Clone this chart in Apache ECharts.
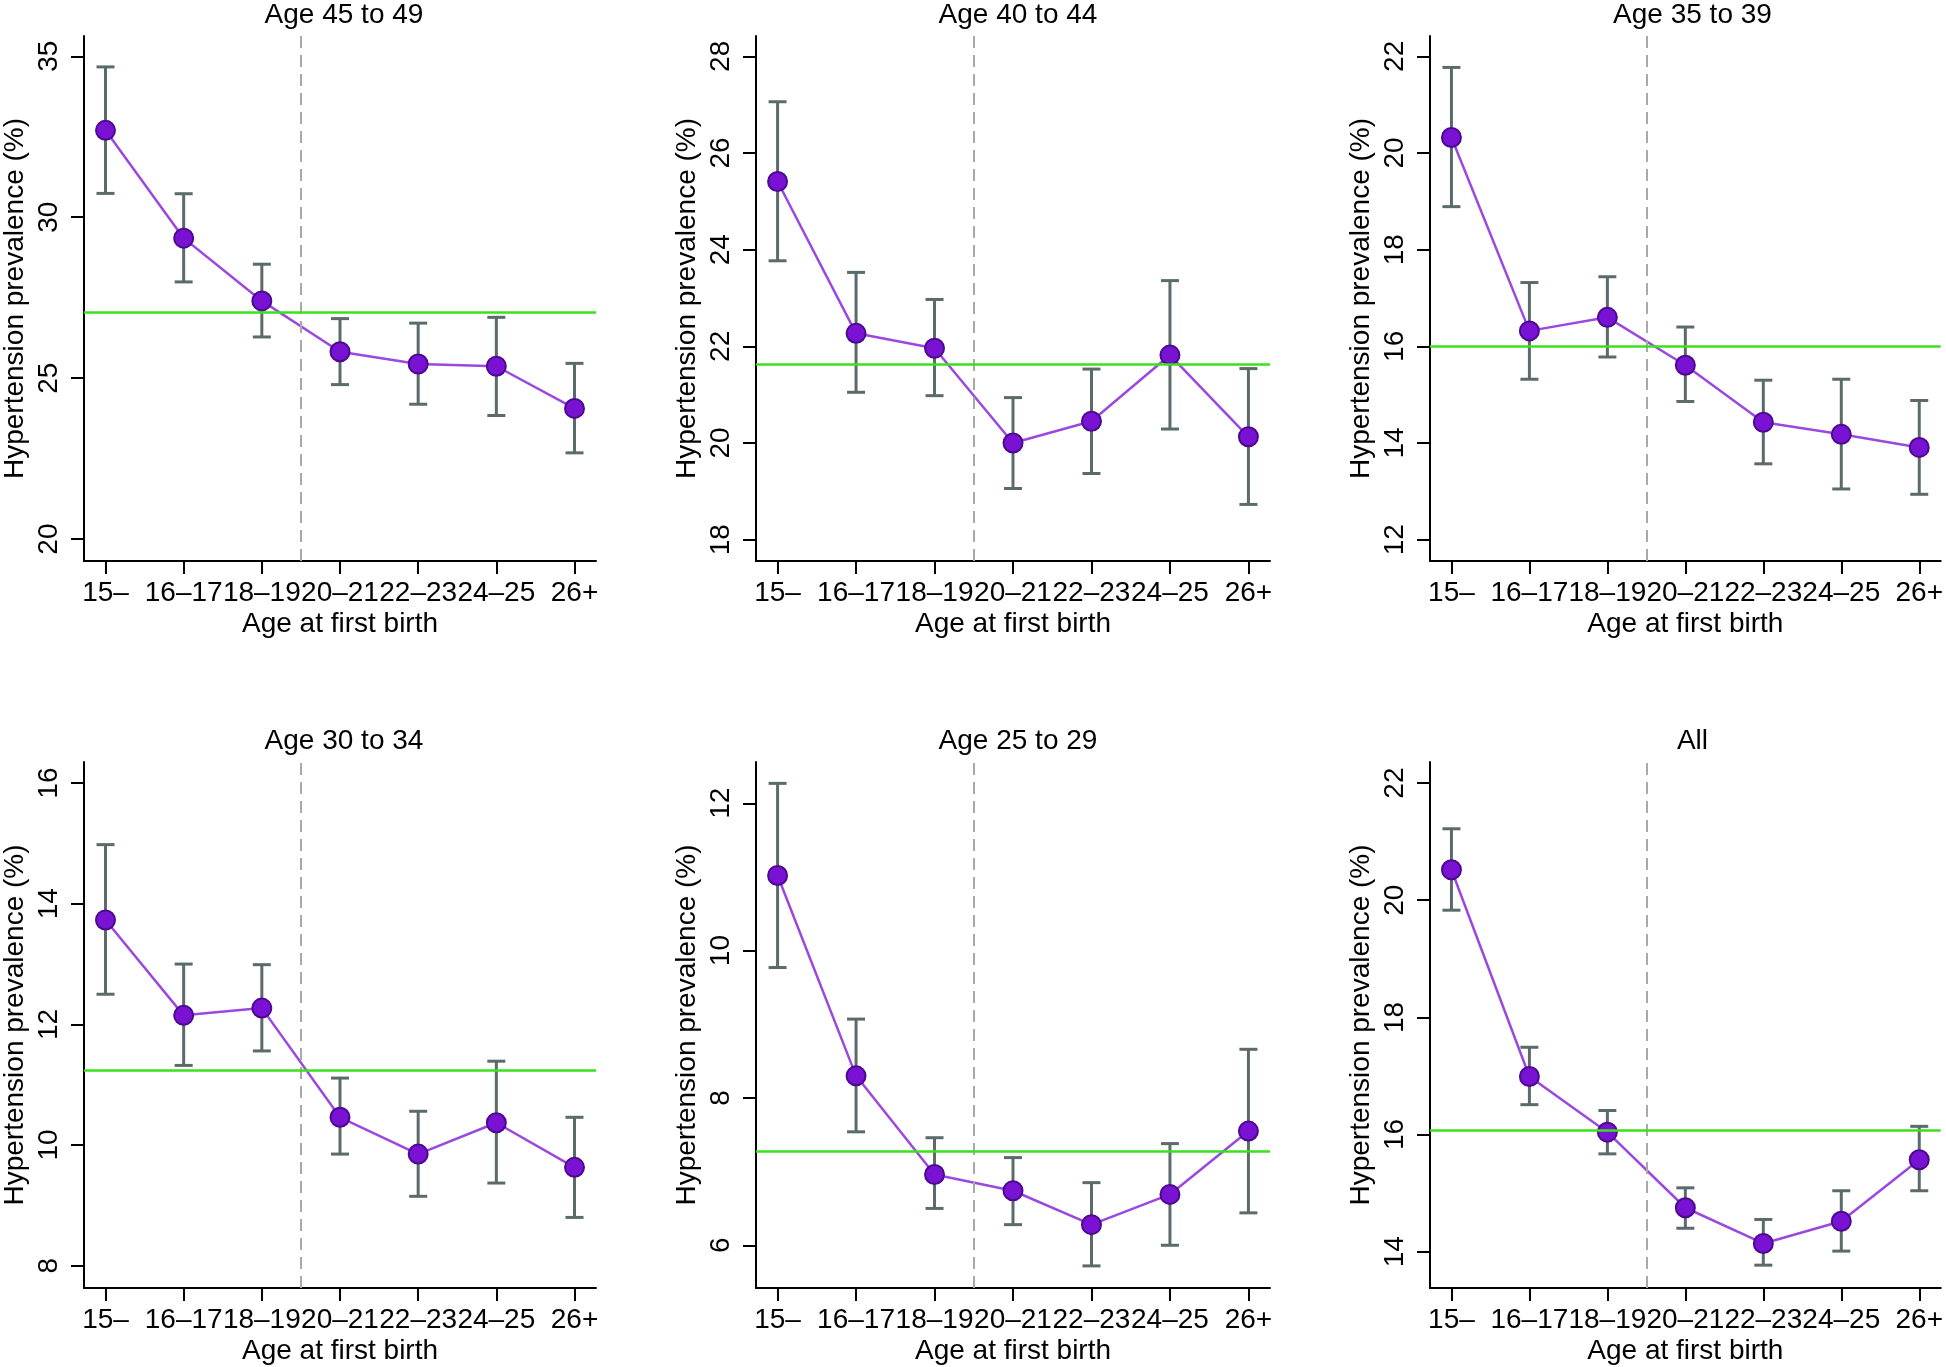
<!DOCTYPE html>
<html>
<head>
<meta charset="utf-8">
<script src="https://cdn.jsdelivr.net/npm/echarts@6/dist/echarts.min.js"></script>
<style>
  html, body { margin: 0; padding: 0; background: #fff; }
  #chart { width: 1946px; height: 1367px; }
</style>
</head>
<body>
<div id="chart"></div>
<script>
// categories: age at first birth
const CATS = ['15–', '16–17', '18–19', '20–21', '22–23', '24–25', '26+'];
const TITLES = ['Age 45 to 49', 'Age 40 to 44', 'Age 35 to 39', 'Age 30 to 34', 'Age 25 to 29', 'All'];

// prevalence (%) and 95% CI per panel
const PREV_45_49 = [32.70, 29.35, 27.40, 25.82, 25.44, 25.37, 24.06];
const LO_45_49   = [30.74, 27.99, 26.28, 24.80, 24.19, 23.84, 22.68];
const HI_45_49   = [34.67, 30.73, 28.54, 26.85, 26.71, 26.89, 25.46];

const PREV_40_44 = [25.41, 22.27, 21.96, 20.00, 20.45, 21.82, 20.13];
const LO_40_44   = [23.77, 21.05, 20.98, 19.06, 19.37, 20.29, 18.73];
const HI_40_44   = [27.06, 23.53, 22.97, 20.94, 21.53, 23.36, 21.54];

const PREV_35_39 = [20.32, 16.32, 16.60, 15.61, 14.43, 14.18, 13.91];
const LO_35_39   = [18.89, 15.32, 15.78, 14.86, 13.57, 13.05, 12.94];
const HI_35_39   = [21.77, 17.32, 17.44, 16.40, 15.30, 15.32, 14.88];

const PREV_30_34 = [13.73, 12.15, 12.27, 10.46, 9.85, 10.37, 9.63];
const LO_30_34   = [12.50, 11.32, 11.56, 9.85, 9.15, 9.37, 8.80];
const HI_30_34   = [14.98, 13.00, 12.99, 11.11, 10.56, 11.39, 10.46];

const PREV_25_29 = [11.02, 8.30, 6.96, 6.74, 6.28, 6.69, 7.55];
const LO_25_29   = [9.77, 7.54, 6.50, 6.28, 5.72, 6.00, 6.44];
const HI_25_29   = [12.27, 9.07, 7.46, 7.19, 6.85, 7.38, 8.66];

const PREV_ALL = [20.52, 16.99, 16.04, 14.75, 14.14, 14.52, 15.57];
const LO_ALL   = [19.83, 16.51, 15.67, 14.40, 13.77, 14.01, 15.04];
const HI_ALL   = [21.22, 17.49, 16.41, 15.09, 14.55, 15.04, 16.14];

// overall mean (green line)
const AVG = [27.04, 21.63, 16.00, 11.24, 7.27, 16.07];

// y tick labels per panel
const YTICKS = [
  [20, 25, 30, 35],
  [18, 20, 22, 24, 26, 28],
  [12, 14, 16, 18, 20, 22],
  [8, 10, 12, 14, 16],
  [6, 8, 10, 12],
  [14, 16, 18, 20, 22]
];

const PANELS = [
  { prev: PREV_45_49, lo: LO_45_49, hi: HI_45_49 },
  { prev: PREV_40_44, lo: LO_40_44, hi: HI_40_44 },
  { prev: PREV_35_39, lo: LO_35_39, hi: HI_35_39 },
  { prev: PREV_30_34, lo: LO_30_34, hi: HI_30_34 },
  { prev: PREV_25_29, lo: LO_25_29, hi: HI_25_29 },
  { prev: PREV_ALL, lo: LO_ALL, hi: HI_ALL }
];

// layout (pixels) and axis ranges
const GRIDS = [
  { left: 82, top: 36, width: 514, height: 525 },
  { left: 756, top: 36, width: 514, height: 525 },
  { left: 1430, top: 36, width: 515, height: 525 },
  { left: 82, top: 762, width: 514, height: 526 },
  { left: 756, top: 762, width: 514, height: 526 },
  { left: 1430, top: 762, width: 515, height: 526 }
];
const YRANGE = [
  [19.32, 35.63], [17.56, 28.42], [11.56, 22.42],
  [7.63, 16.35], [5.42, 12.56], [13.38, 22.36]
];

const FONT = "'Liberation Sans', Helvetica, Arial, sans-serif";
const FS = 28;
const BLACK = '#000';

function renderErr(params, api) {
  const x = api.value(0);
  const lo = api.coord([x, api.value(1)]);
  const hi = api.coord([x, api.value(2)]);
  const cap = 9;
  const style = { stroke: '#5b6a6a', lineWidth: 3 };
  return {
    type: 'group',
    children: [
      { type: 'line', shape: { x1: lo[0], y1: lo[1], x2: hi[0], y2: hi[1] }, style: style },
      { type: 'line', shape: { x1: hi[0] - cap, y1: hi[1], x2: hi[0] + cap, y2: hi[1] }, style: style },
      { type: 'line', shape: { x1: lo[0] - cap, y1: lo[1], x2: lo[0] + cap, y2: lo[1] }, style: style }
    ]
  };
}

const chart = echarts.init(document.getElementById('chart'));

const option = {
  animation: false,
  backgroundColor: '#fff',
  textStyle: { fontFamily: FONT },
  title: GRIDS.map((g, i) => ({
    text: TITLES[i],
    left: g.left + g.width / 2,
    textAlign: 'center',
    top: i < 3 ? -4 : 722,
    textStyle: { fontFamily: FONT, fontSize: FS, fontWeight: 'normal', color: BLACK }
  })),
  grid: GRIDS.map(g => ({ left: g.left, top: g.top, width: g.width, height: g.height })),
  xAxis: GRIDS.map((g, i) => ({
    type: 'value',
    gridIndex: i,
    min: 0.725,
    max: 7.275,
    name: 'Age at first birth',
    nameLocation: 'middle',
    nameGap: 49,
    nameTextStyle: { fontFamily: FONT, fontSize: FS, color: BLACK },
    axisLine: { show: true, onZero: false, lineStyle: { color: BLACK, width: 2 } },
    axisTick: { show: true, length: 13, lineStyle: { color: BLACK, width: 2 }, customValues: [1, 2, 3, 4, 5, 6, 7] },
    axisLabel: {
      fontFamily: FONT, fontSize: FS, color: BLACK, margin: 18,
      customValues: [1, 2, 3, 4, 5, 6, 7],
      formatter: v => CATS[Math.round(v) - 1]
    },
    splitLine: { show: false }
  })),
  yAxis: GRIDS.map((g, i) => ({
    type: 'value',
    gridIndex: i,
    min: YRANGE[i][0],
    max: YRANGE[i][1],
    name: 'Hypertension prevalence (%)',
    nameLocation: 'middle',
    nameGap: 55,
    nameTextStyle: { fontFamily: FONT, fontSize: FS, color: BLACK },
    axisLine: { show: true, onZero: false, lineStyle: { color: BLACK, width: 2 } },
    axisTick: { show: true, length: 13, lineStyle: { color: BLACK, width: 2 }, customValues: YTICKS[i] },
    axisLabel: {
      fontFamily: FONT, fontSize: FS, color: BLACK, margin: 21, rotate: 90,
      customValues: YTICKS[i]
    },
    splitLine: { show: false }
  })),
  series: []
};

PANELS.forEach((p, i) => {
  const pts = p.prev.map((v, k) => [k + 1, v]);
  // error bars
  option.series.push({
    type: 'custom',
    xAxisIndex: i,
    yAxisIndex: i,
    z: 1,
    silent: true,
    renderItem: renderErr,
    encode: { x: 0, y: [1, 2] },
    data: p.lo.map((v, k) => [k + 1, v, p.hi[k]])
  });
  // reference lines: mean (green) and 19/20 cut (dashed)
  option.series.push({
    type: 'line',
    xAxisIndex: i,
    yAxisIndex: i,
    z: 2,
    silent: true,
    symbol: 'none',
    lineStyle: { opacity: 0 },
    data: pts,
    markLine: {
      silent: true,
      symbol: ['none', 'none'],
      label: { show: false },
      animation: false,
      data: [
        { xAxis: 3.5, lineStyle: { color: '#a9a9a9', width: 2, type: [12, 7] } },
        { yAxis: AVG[i], lineStyle: { color: '#3be11e', width: 2.5, type: 'solid' } }
      ]
    }
  });
  // estimates
  option.series.push({
    type: 'line',
    xAxisIndex: i,
    yAxisIndex: i,
    z: 3,
    data: pts,
    symbol: 'circle',
    symbolSize: 19,
    lineStyle: { color: '#9b48e0', width: 2.5 },
    itemStyle: { color: '#7a12d4', borderColor: '#4b0a8f', borderWidth: 2 }
  });
});

chart.setOption(option);
</script>
</body>
</html>
